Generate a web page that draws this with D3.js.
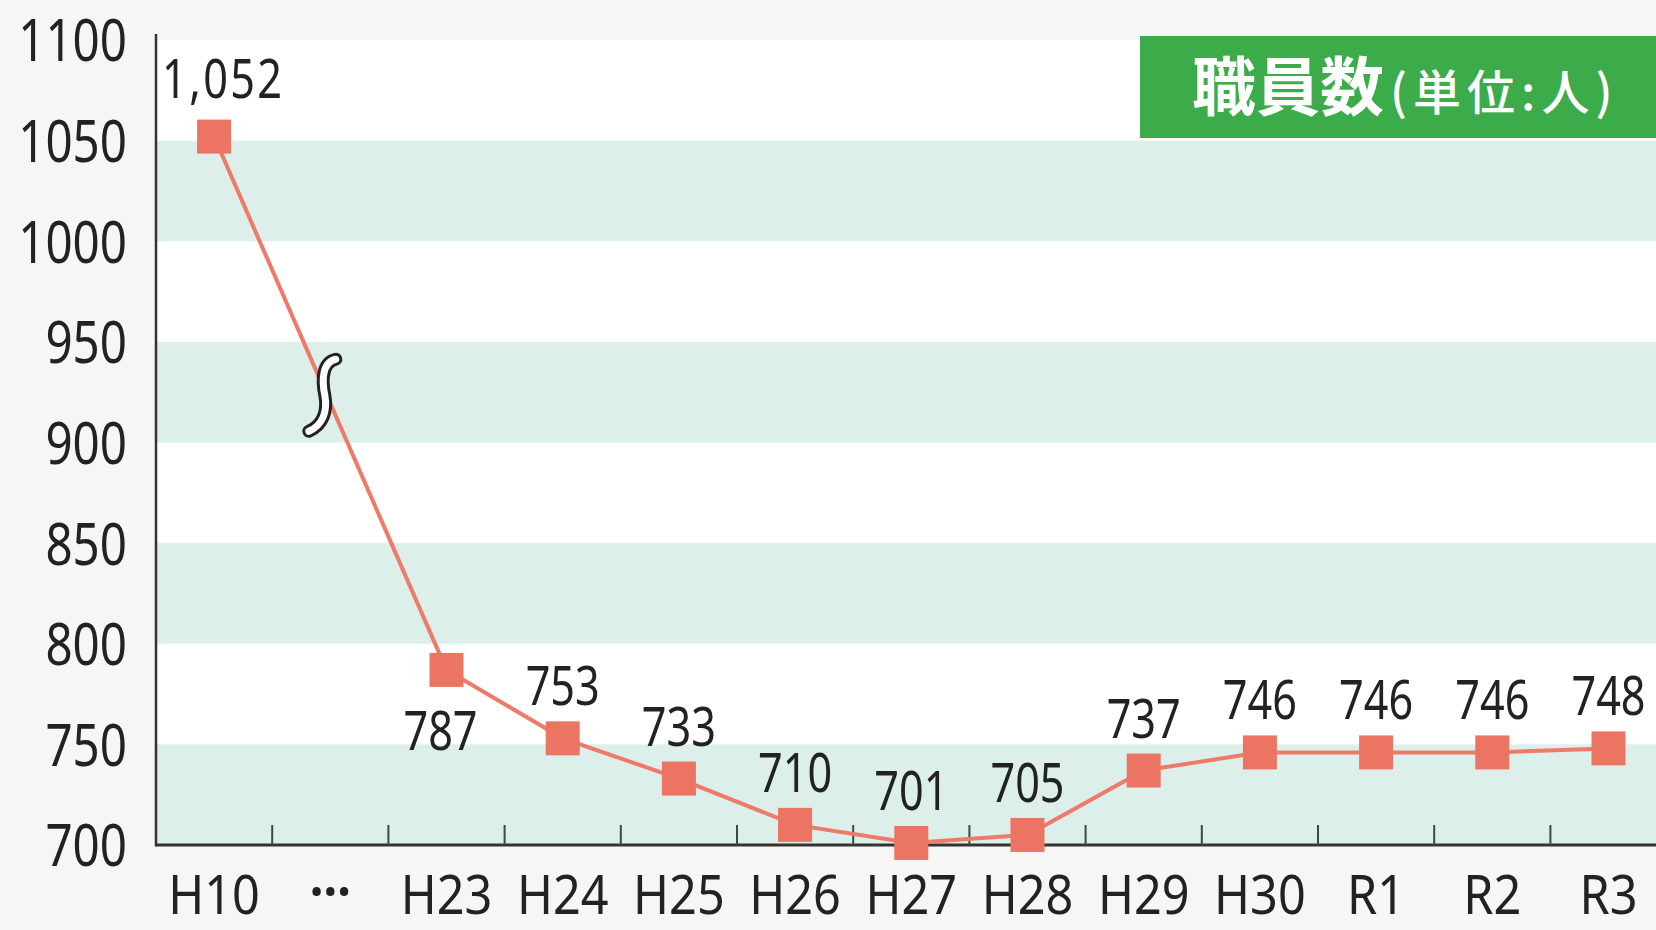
<!DOCTYPE html>
<html><head><meta charset="utf-8">
<script src="https://cdn.jsdelivr.net/npm/d3@7"></script>
<style>
html,body{margin:0;padding:0;background:#f6f6f4;}
svg{display:block;}
</style></head>
<body>
<svg id="chart" width="1656" height="930"></svg>
<script>
// ---- data ----
const categories = ["H10","···","H23","H24","H25","H26","H27","H28","H29","H30","R1","R2","R3"];
const values     = [1052, null, 787, 753, 733, 710, 701, 705, 737, 746, 746, 746, 748];
const yTicks     = [700, 750, 800, 850, 900, 950, 1000, 1050, 1100];
const bandStarts = [700, 800, 900, 1000];
const titleMain  = "職員数";
const titleUnit  = "(単位:人)";

// ---- layout ----
const W = 1656, H = 930;
const axisX = 156, axisY = 845, topY = 40, band = 116.2;
const svg = d3.select("#chart");
const x = d3.scaleBand().domain(categories).range([axisX, axisX + categories.length * band]).padding(0);
const y = d3.scaleLinear().domain([700, 1100]).range([axisY, topY]);
const cx = c => x(c) + x.bandwidth() / 2;

svg.append("rect").attr("width", W).attr("height", H).attr("fill", "#f6f6f4");
svg.append("rect").attr("x", axisX).attr("y", y(1100)).attr("width", W - axisX).attr("height", y(700) - y(1100)).attr("fill", "#ffffff");
svg.selectAll("rect.band").data(bandStarts).join("rect").attr("class", "band")
  .attr("x", axisX).attr("width", W - axisX)
  .attr("y", d => y(d + 50)).attr("height", d => y(d) - y(d + 50))
  .attr("fill", "#ddefea");

// title box
svg.append("rect").attr("x", 1140).attr("y", 36).attr("width", W - 1140).attr("height", 102).attr("fill", "#3cac4b");
const tt = svg.append("text").attr("x", 1192).attr("y", 110).attr("fill", "#fff")
  .attr("font-family", "'Noto Sans CJK JP', sans-serif");
tt.append("tspan").attr("font-size", 64).attr("font-weight", 700).text(titleMain);
tt.append("tspan").attr("font-size", 48).attr("font-weight", 500).attr("dx", 6)
  .attr("letter-spacing", 6).text(titleUnit);

// y axis
const yAxis = d3.axisLeft(y).tickValues(yTicks).tickFormat(d3.format("d")).tickSize(0).tickPadding(0);
const gy = svg.append("g").attr("transform", `translate(${axisX},0)`).call(yAxis);
gy.select(".domain").remove();
gy.selectAll("text").attr("font-family", "'Noto Sans', sans-serif").attr("font-size", 58)
  .attr("fill", "#222").attr("text-anchor", "end")
  .attr("x", -29 / 0.82).attr("dy", "0.36em")
  .attr("transform", "scale(0.82,1)");

// x axis
const xAxis = d3.axisBottom(x).tickSize(0).tickPadding(0);
const gx = svg.append("g").attr("transform", `translate(0,${axisY})`).call(xAxis);
gx.select(".domain").remove();
gx.selectAll(".tick text").attr("font-family", "'Noto Sans', sans-serif").attr("font-size", 54)
  .attr("fill", "#222").attr("dy", 0).attr("y", 69).attr("x", 0)
  .attr("transform", "scale(0.9,1)");
gx.selectAll(".tick text").filter(d => d === "···")
  .attr("font-size", 54).attr("font-weight", 700).attr("y", 66);

// axis lines
svg.append("line").attr("x1", axisX).attr("x2", axisX).attr("y1", 34).attr("y2", axisY + 1.5)
  .attr("stroke", "#333").attr("stroke-width", 2.5);
svg.append("line").attr("x1", axisX).attr("x2", W).attr("y1", axisY).attr("y2", axisY)
  .attr("stroke", "#333").attr("stroke-width", 3);
// band-boundary ticks
svg.selectAll("line.xtick").data(categories.slice(1)).join("line").attr("class", "xtick")
  .attr("x1", d => x(d)).attr("x2", d => x(d))
  .attr("y1", axisY - 20).attr("y2", axisY)
  .attr("stroke", "#444").attr("stroke-width", 2);

// line
const pts = categories.map((c, i) => ({c, v: values[i]})).filter(d => d.v != null);
const lineGen = d3.line().x(d => cx(d.c)).y(d => y(d.v));
svg.append("path").datum(pts).attr("d", lineGen).attr("fill", "none")
  .attr("stroke", "#ee7a6a").attr("stroke-width", 4);

// break mark on first segment
const p0 = pts[0], p1 = pts[1];
const t = 0.485;
const bx = cx(p0.c) + (cx(p1.c) - cx(p0.c)) * t;
const by = y(p0.v) + (y(p1.v) - y(p0.v)) * t;
const sPath = `M ${bx + 9} ${by - 36} C ${bx - 5} ${by - 33}, ${bx - 5} ${by - 14}, ${bx - 2} ${by} C ${bx + 1} ${by + 16}, ${bx - 4} ${by + 30}, ${bx - 18} ${by + 36}`;
svg.append("path").attr("d", sPath).attr("fill", "none").attr("stroke", "#222").attr("stroke-width", 13).attr("stroke-linecap", "round");
svg.append("path").attr("d", sPath).attr("fill", "none").attr("stroke", "#fff").attr("stroke-width", 7).attr("stroke-linecap", "round");

// markers
const ms = 34;
svg.selectAll("rect.mk").data(pts).join("rect").attr("class", "mk")
  .attr("x", d => cx(d.c) - ms / 2).attr("y", d => y(d.v) - ms / 2)
  .attr("width", ms).attr("height", ms).attr("fill", "#ec7462");

// value labels
const fmt = d3.format(",");
const sx = 0.8;
svg.selectAll("text.val").data(pts).join("text").attr("class", "val")
  .attr("font-family", "'Noto Sans', sans-serif").attr("font-size", 54).attr("fill", "#222")
  .attr("text-anchor", d => d.c === "H10" ? "start" : "middle")
  .attr("letter-spacing", d => d.c === "H10" ? 3 : 0)
  .attr("transform", d => {
    let px = cx(d.c), py = y(d.v) - 33;
    if (d.c === "H10") { px = cx(d.c) - 52; py = y(d.v) - 39; }
    if (d.c === "H23") { px = cx(d.c) - 6; py = y(d.v) + 80; }
    return `translate(${px},${py}) scale(${sx},1)`;
  })
  .text(d => fmt(d.v));
</script>
</body></html>
